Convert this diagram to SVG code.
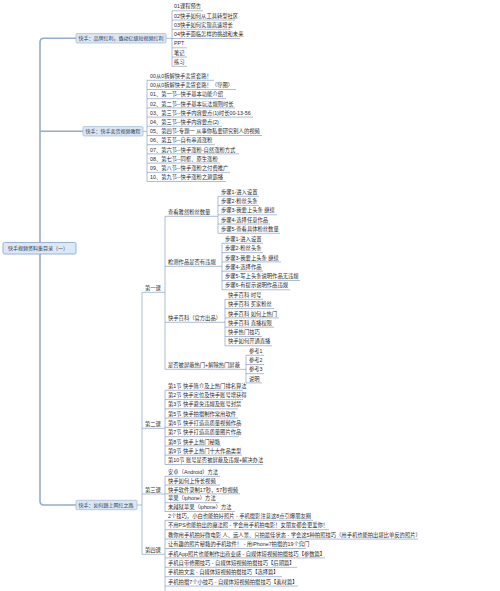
<svg xmlns="http://www.w3.org/2000/svg" width="500" height="591" viewBox="0 0 500 591">
<style>
text{font-family:"Liberation Sans","Noto Sans CJK SC",sans-serif;font-size:5.3px;fill:#2a2a2a}
.b{font-size:5px;fill:#2a3a55}
.ln{stroke:#7591b8;stroke-width:0.6;fill:none}
.ul{stroke:#7591b8;stroke-width:0.6}
.tr{stroke:#94acca;stroke-width:1.6;fill:none}
.bx{fill:#dce7f4;stroke:#9fb7d6;stroke-width:0.7}
.rt{fill:#dde8f6;stroke:#8eaacd;stroke-width:0.9}
</style>
<rect width="500" height="591" fill="#ffffff"/>
<g id="connectors">
<path class="tr" d="M76,38.3 H44 Q40,38.3 40,42.3 V501 Q40,505 44,505 H76 M40,131.3 H83"/>
<path class="ln" d="M166,38.3 H172 M172,10.8 V66.3"/>
<path class="ln" d="M143,131.3 H147 M147,80.3 V181.5"/>
<path class="ln" d="M137,505 H142 M142,292.3 V554.3"/>
<path class="ln" d="M165,216.3 V369.3 M218,196.3 V233.3 M222,243.3 V289.8 M225,299.3 V345.8 M246,355.3 V382.9"/>
<path class="ln" d="M165,390.3 V464.5 M165,476.3 V511.5 M165,520.3 V591"/>
</g>
<g id="root"><rect class="rt" x="3" y="242.5" width="73" height="11.5" rx="1.5"/><text class="b" x="8" y="250">快手视频资料集目录（一）</text></g>
<g id="b1"><rect class="bx" x="76" y="33.6" width="90" height="9.4" rx="1"/><text class="b" x="78.5" y="40.1">快手：品牌红利，撬动亿级短视频红利</text></g>
<g id="b2"><rect class="bx" x="83" y="126.6" width="60" height="9.4" rx="1"/><text class="b" x="85.5" y="133.1">快手：快手卖货视频教程</text></g>
<g id="b3"><rect class="bx" x="76" y="500.3" width="61" height="9.4" rx="1"/><text class="b" x="78.5" y="506.8">快手：如何踏上网红之路</text></g>
<g id="b1-1"><text x="174" y="8.4">01课程预告</text><line class="ul" x1="172" y1="10.8" x2="203" y2="10.8"/></g>
<g id="b1-2"><text x="174" y="17.65">02快手如何从工具转型社区</text><line class="ul" x1="172" y1="20.05" x2="235" y2="20.05"/></g>
<g id="b1-3"><text x="174" y="26.9">03快手如何实现高速增长</text><line class="ul" x1="172" y1="29.3" x2="230" y2="29.3"/></g>
<g id="b1-4"><text x="174" y="36.15">04快手面临怎样的挑战和未来</text><line class="ul" x1="172" y1="38.55" x2="240" y2="38.55"/></g>
<g id="b1-5"><text x="174" y="45.4">PPT</text><line class="ul" x1="172" y1="47.8" x2="187" y2="47.8"/></g>
<g id="b1-6"><text x="174" y="54.65">笔记</text><line class="ul" x1="172" y1="57.05" x2="187" y2="57.05"/></g>
<g id="b1-7"><text x="174" y="63.9">练习</text><line class="ul" x1="172" y1="66.3" x2="187" y2="66.3"/></g>
<g id="b2-1"><text x="150" y="77.9">00从0拆解快手卖货套路！</text><line class="ul" x1="147" y1="80.3" x2="214" y2="80.3"/></g>
<g id="b2-2"><text x="150" y="87.1">00从0拆解快手卖货套路！（导图）</text><line class="ul" x1="147" y1="89.5" x2="236" y2="89.5"/></g>
<g id="b2-3"><text x="150" y="96.3">01、第一节--快手基本功能介绍</text><line class="ul" x1="147" y1="98.7" x2="226" y2="98.7"/></g>
<g id="b2-4"><text x="150" y="105.5">02、第二节--快手基本玩法规则时长</text><line class="ul" x1="147" y1="107.9" x2="235" y2="107.9"/></g>
<g id="b2-5"><text x="150" y="114.7">03、第三节--快手内容要点(1)时长00-13-56</text><line class="ul" x1="147" y1="117.1" x2="253" y2="117.1"/></g>
<g id="b2-6"><text x="150" y="123.9">04、第三节--快手内容要点(2)</text><line class="ul" x1="147" y1="126.3" x2="222" y2="126.3"/></g>
<g id="b2-7"><text x="150" y="133.1">05、第四节-专题一 从事你私要研究别人的视频</text><line class="ul" x1="147" y1="135.5" x2="262" y2="135.5"/></g>
<g id="b2-8"><text x="150" y="142.3">06、第五节--自有串道涨粉</text><line class="ul" x1="147" y1="144.7" x2="215" y2="144.7"/></g>
<g id="b2-9"><text x="150" y="151.5">07、第六节--快手涨粉-自然涨粉方式</text><line class="ul" x1="147" y1="153.9" x2="239" y2="153.9"/></g>
<g id="b2-10"><text x="150" y="160.7">08、第七节--同框、原生涨粉</text><line class="ul" x1="147" y1="163.1" x2="220" y2="163.1"/></g>
<g id="b2-11"><text x="150" y="169.9">09、第八节--快手涨粉之付费推广</text><line class="ul" x1="147" y1="172.3" x2="230" y2="172.3"/></g>
<g id="b2-12"><text x="150" y="179.1">10、第九节--快手涨粉之涮霸播</text><line class="ul" x1="147" y1="181.5" x2="226" y2="181.5"/></g>
<g id="k1"><text x="145" y="289.9">第一课</text><line class="ul" x1="142" y1="292.3" x2="165" y2="292.3"/></g>
<g id="k2"><text x="145" y="425.9">第二课</text><line class="ul" x1="142" y1="428.3" x2="165" y2="428.3"/></g>
<g id="k3"><text x="145" y="491.6">第三课</text><line class="ul" x1="142" y1="494" x2="165" y2="494"/></g>
<g id="k4"><text x="145" y="551.9">第四课</text><line class="ul" x1="142" y1="554.3" x2="165" y2="554.3"/></g>
<g id="k1-a"><text x="168" y="213.9">查看雅然粉丝数量</text><line class="ul" x1="165" y1="216.3" x2="218" y2="216.3"/></g>
<g id="k1-a1"><text x="221" y="193.9">步骤1-进入设置</text><line class="ul" x1="218" y1="196.3" x2="259" y2="196.3"/></g>
<g id="k1-a2"><text x="221" y="203.15">步骤2-粉丝头条</text><line class="ul" x1="218" y1="205.55" x2="259" y2="205.55"/></g>
<g id="k1-a3"><text x="221" y="212.4">步骤3-我要上头条 继续</text><line class="ul" x1="218" y1="214.8" x2="277" y2="214.8"/></g>
<g id="k1-a4"><text x="221" y="221.65">步骤4-选择任意作品</text><line class="ul" x1="218" y1="224.05" x2="270" y2="224.05"/></g>
<g id="k1-a5"><text x="221" y="230.9">步骤5-查看具体粉丝数量</text><line class="ul" x1="218" y1="233.3" x2="280" y2="233.3"/></g>
<g id="k1-b"><text x="168" y="263.9">检测作品是否有违规</text><line class="ul" x1="165" y1="266.3" x2="222" y2="266.3"/></g>
<g id="k1-b1"><text x="225" y="240.9">步骤1-进入设置</text><line class="ul" x1="222" y1="243.3" x2="263" y2="243.3"/></g>
<g id="k1-b2"><text x="225" y="250.2">步骤2-粉丝头条</text><line class="ul" x1="222" y1="252.6" x2="263" y2="252.6"/></g>
<g id="k1-b3"><text x="225" y="259.5">步骤3-我要上头条 继续</text><line class="ul" x1="222" y1="261.9" x2="281" y2="261.9"/></g>
<g id="k1-b4"><text x="225" y="268.8">步骤4-选择作品</text><line class="ul" x1="222" y1="271.2" x2="263" y2="271.2"/></g>
<g id="k1-b5"><text x="225" y="278.1">步骤5-写上头条说明作品无违规</text><line class="ul" x1="222" y1="280.5" x2="300" y2="280.5"/></g>
<g id="k1-b6"><text x="225" y="287.4">步骤6-有提示说明作品违规</text><line class="ul" x1="222" y1="289.8" x2="290" y2="289.8"/></g>
<g id="k1-c"><text x="168" y="319.9">快手百科（官方出品）</text><line class="ul" x1="165" y1="322.3" x2="225" y2="322.3"/></g>
<g id="k1-c1"><text x="228" y="296.9">快手百科 时号</text><line class="ul" x1="225" y1="299.3" x2="263" y2="299.3"/></g>
<g id="k1-c2"><text x="228" y="306.2">快手百科 买家粉丝</text><line class="ul" x1="225" y1="308.6" x2="274" y2="308.6"/></g>
<g id="k1-c3"><text x="228" y="315.5">快手百科 如何上热门</text><line class="ul" x1="225" y1="317.9" x2="279" y2="317.9"/></g>
<g id="k1-c4"><text x="228" y="324.8">快手百科 直播权限</text><line class="ul" x1="225" y1="327.2" x2="274" y2="327.2"/></g>
<g id="k1-c5"><text x="228" y="334.1">快手热门技巧</text><line class="ul" x1="225" y1="336.5" x2="262" y2="336.5"/></g>
<g id="k1-c6"><text x="228" y="343.4">快手如何开通直播</text><line class="ul" x1="225" y1="345.8" x2="272" y2="345.8"/></g>
<g id="k1-d"><text x="168" y="366.9">是否被屏蔽热门+解除热门屏蔽</text><line class="ul" x1="165" y1="369.3" x2="246" y2="369.3"/></g>
<g id="k1-d1"><text x="249" y="352.9">参考1</text><line class="ul" x1="246" y1="355.3" x2="264" y2="355.3"/></g>
<g id="k1-d2"><text x="249" y="362.1">参考2</text><line class="ul" x1="246" y1="364.5" x2="264" y2="364.5"/></g>
<g id="k1-d3"><text x="249" y="371.3">参考3</text><line class="ul" x1="246" y1="373.7" x2="264" y2="373.7"/></g>
<g id="k1-d4"><text x="249" y="380.5">说明</text><line class="ul" x1="246" y1="382.9" x2="262" y2="382.9"/></g>
<g id="k2-1"><text x="168" y="387.9">第1节 快手简介及上热门排名算法</text><line class="ul" x1="165" y1="390.3" x2="243" y2="390.3"/></g>
<g id="k2-2"><text x="168" y="397.17">第2节 快手定位及快手账号增获得</text><line class="ul" x1="165" y1="399.57" x2="243" y2="399.57"/></g>
<g id="k2-3"><text x="168" y="406.44">第3节 快手避免违规及账号封禁</text><line class="ul" x1="165" y1="408.84" x2="238" y2="408.84"/></g>
<g id="k2-4"><text x="168" y="415.71">第5节 快手拍摄制作常用软件</text><line class="ul" x1="165" y1="418.11" x2="238" y2="418.11"/></g>
<g id="k2-5"><text x="168" y="424.98">第6节 快手打造高质量视频作品</text><line class="ul" x1="165" y1="427.38" x2="239" y2="427.38"/></g>
<g id="k2-6"><text x="168" y="434.25">第7节 快手打造高质量图片作品</text><line class="ul" x1="165" y1="436.65" x2="239" y2="436.65"/></g>
<g id="k2-7"><text x="168" y="443.52">第8节 快手上热门秘籍</text><line class="ul" x1="165" y1="445.92" x2="221" y2="445.92"/></g>
<g id="k2-8"><text x="168" y="452.79">第9节 快手上热门十大作品类型</text><line class="ul" x1="165" y1="455.19" x2="242" y2="455.19"/></g>
<g id="k2-9"><text x="168" y="462.06">第10节 账号是否被屏蔽及违规+解决办法</text><line class="ul" x1="165" y1="464.5" x2="263" y2="464.5"/></g>
<g id="k3-1"><text x="168" y="473.9">安卓（Android）方法</text><line class="ul" x1="165" y1="476.3" x2="220" y2="476.3"/></g>
<g id="k3-2"><text x="168" y="482.7">快手如何上传长视频</text><line class="ul" x1="165" y1="485.1" x2="220" y2="485.1"/></g>
<g id="k3-3"><text x="168" y="491.5">快手软件录制17秒，57秒视频</text><line class="ul" x1="165" y1="493.9" x2="240" y2="493.9"/></g>
<g id="k3-4"><text x="168" y="500.3">苹果（iphone）方法</text><line class="ul" x1="165" y1="502.7" x2="219" y2="502.7"/></g>
<g id="k3-5"><text x="168" y="509.1">未越狱苹果（iphone）方法</text><line class="ul" x1="165" y1="511.5" x2="235" y2="511.5"/></g>
<g id="k4-1"><text x="168" y="517.9">2个技巧，小白也能拍好照片 - 手机摄影注意这8点引爆朋友圈</text><line class="ul" x1="165" y1="520.3" x2="313" y2="520.3"/></g>
<g id="k4-2"><text x="168" y="527.3">不用PS也能拍出的魔法照 - 学会用手机拍电影！女朋友都会更爱你！</text><line class="ul" x1="165" y1="529.7" x2="329" y2="529.7"/></g>
<g id="k4-3"><text x="168" y="536.7">教你用手机拍好微电影 人、远人景、只拍最佳状态 - 学会这5种拍照技巧（用手机也能拍出堪比单反的照片）</text><line class="ul" x1="165" y1="539.1" x2="418" y2="539.1"/></g>
<g id="k4-4"><text x="168" y="546.1">让有趣的照片秘籍的手机软件！ - 用iPhone7拍摄的19个窍门</text><line class="ul" x1="165" y1="548.5" x2="306" y2="548.5"/></g>
<g id="k4-5"><text x="168" y="555.5">手机App照片也能制作出商业感 - 自媒体短视频拍摄技巧【参数篇】</text><line class="ul" x1="165" y1="557.9" x2="325" y2="557.9"/></g>
<g id="k4-6"><text x="168" y="564.9">手机自带修图技巧 - 自媒体短视频拍摄技巧【后期篇】</text><line class="ul" x1="165" y1="567.3" x2="297" y2="567.3"/></g>
<g id="k4-7"><text x="168" y="574.3">手机拍文案 - 自媒体短视频拍摄技巧【选择篇】</text><line class="ul" x1="165" y1="576.7" x2="282" y2="576.7"/></g>
<g id="k4-8"><text x="168" y="583.7">手机拍摄7个小技巧 - 自媒体短视频拍摄技巧【素材篇】</text><line class="ul" x1="165" y1="586.1" x2="298" y2="586.1"/></g>
</svg>
